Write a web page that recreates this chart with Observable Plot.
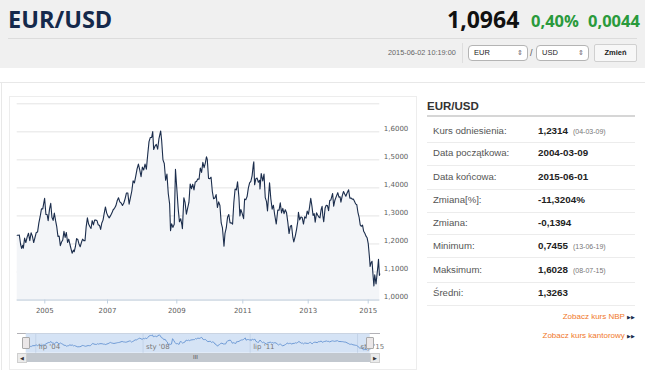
<!DOCTYPE html>
<html><head><meta charset="utf-8">
<script src="https://cdn.jsdelivr.net/npm/d3@7"></script>
<script src="https://cdn.jsdelivr.net/npm/@observablehq/plot@0.6"></script>
<style>
body{margin:0;width:645px;height:370px;overflow:hidden;background:#fff;font-family:"Liberation Sans",Arial,sans-serif;position:relative}
.a{position:absolute;white-space:nowrap}
.os{font-family:"Open Sans",sans-serif;font-weight:700}
#main,#nav{position:absolute}
#main svg,#nav svg{overflow:visible;display:block}
</style></head><body>
<div class="a" style="left:0;top:0;width:645px;height:68px;background:#f0f0f0"></div>
<div class="a os" style="left:8px;top:7px;font-size:23.5px;line-height:24px;color:#15294b">EUR/USD</div>
<div class="a os" style="left:447px;top:7px;font-size:23px;line-height:24px;color:#111">1,0964</div>
<div class="a os" style="left:531px;top:11px;font-size:16.5px;line-height:20px;color:#2a9a3c">0,40%</div>
<div class="a os" style="left:588px;top:11px;font-size:16.5px;line-height:20px;color:#2a9a3c">0,0044</div>
<div class="a" style="left:8px;top:38px;width:629px;height:1px;background:#dcdcdc"></div>
<div class="a" style="left:388px;top:47px;font-size:7.3px;line-height:12px;color:#666">2015-06-02 10:19:00</div>
<div class="a" style="left:462px;top:43px;width:1px;height:20px;background:#dedede"></div>
<div class="a" style="left:468px;top:45px;width:58px;height:14px;border:1px solid #b4b4b4;border-radius:4px;background:#fff;font-size:7.5px;line-height:14px;color:#222"><span style="margin-left:5px">EUR</span><span style="position:absolute;right:4px;font-size:7px;color:#666">⇕</span></div>
<div class="a" style="left:530px;top:46px;font-size:9px;line-height:14px;color:#555">/</div>
<div class="a" style="left:536px;top:45px;width:51px;height:14px;border:1px solid #b4b4b4;border-radius:4px;background:#fff;font-size:7.5px;line-height:14px;color:#222"><span style="margin-left:5px">USD</span><span style="position:absolute;right:4px;font-size:7px;color:#666">⇕</span></div>
<div class="a" style="left:594px;top:44px;width:41px;height:16px;border:1px solid #d0d0d0;border-radius:2px;background:#f7f7f7;font-size:7.5px;font-weight:bold;line-height:16px;text-align:center;color:#222">Zmień</div>

<div class="a" style="left:0;top:82px;width:645px;height:1px;background:#e8e8e8"></div>
<div class="a" style="left:1px;top:82px;width:1px;height:288px;background:#e8e8e8"></div>
<div class="a" style="left:9px;top:96px;width:406px;height:272px;border:1px solid #ededed"></div>

<div id="main" style="left:10px;top:96px"></div>
<div class="a" style="left:16.7px;top:333px;width:363px;height:1px;background:#b2b1b6"></div>
<div id="nav" style="left:10px;top:330px"></div>
<div class="a" style="left:22px;top:337px;width:6px;height:10px;border:1px solid #a9a9a9;border-radius:1px;background:#ebe7e8"></div>
<div class="a" style="left:366px;top:337px;width:6px;height:10px;border:1px solid #a9a9a9;border-radius:1px;background:#ebe7e8"></div>
<div class="a" style="left:16.7px;top:353px;width:363px;height:9px;background:#c2c8cf"></div>
<div class="a" style="left:16.7px;top:353px;width:8px;height:8px;border:1px solid #cfcfcf;background:#ebebeb;font-size:5px;line-height:8px;text-align:center;color:#333">◀</div>
<div class="a" style="left:370px;top:353px;width:8px;height:8px;border:1px solid #cfcfcf;background:#ebebeb;font-size:5px;line-height:8px;text-align:center;color:#333">▶</div>
<div class="a" style="left:193px;top:353px;font-size:6px;line-height:9px;color:#555">III</div>

<div class="a" style="left:427px;top:98px;font-size:11.5px;font-weight:bold;line-height:16px;color:#333">EUR/USD</div>
<div class="a" style="left:426.7px;top:115px;width:208px;height:2px;background:#d6d6d6"></div>
<div id="side"></div>
<div class="a" style="left:540px;top:311px;width:95px;text-align:right;font-size:8px;line-height:12px;color:#f0782a">Zobacz kurs NBP <span style="color:#1a2b4a;font-size:5px">▶▶</span></div>
<div class="a" style="left:500px;top:330px;width:135px;text-align:right;font-size:8px;line-height:12px;color:#f0782a">Zobacz kurs kantorowy <span style="color:#1a2b4a;font-size:5px">▶▶</span></div>

<script>
// ---- data ----
const dates = [
"2004-03-09","2004-03-22","2004-04-01","2004-04-15","2004-04-26","2004-05-07","2004-05-14","2004-05-28","2004-06-10","2004-06-25",
"2004-07-09","2004-07-23","2004-08-06","2004-08-20","2004-09-03","2004-09-17","2004-10-01","2004-10-15","2004-10-29","2004-11-12",
"2004-11-26","2004-12-10","2004-12-30","2005-01-14","2005-01-28","2005-02-09","2005-02-25","2005-03-11","2005-03-25","2005-04-08",
"2005-04-22","2005-05-06","2005-05-20","2005-06-03","2005-06-17","2005-07-01","2005-07-15","2005-07-29","2005-08-12","2005-08-26",
"2005-09-09","2005-09-23","2005-10-07","2005-10-21","2005-11-04","2005-11-15","2005-11-30","2005-12-09","2005-12-23","2006-01-06",
"2006-01-20","2006-02-03","2006-02-17","2006-03-03","2006-03-17","2006-03-31","2006-04-14","2006-04-28","2006-05-12","2006-05-26",
"2006-06-09","2006-06-23","2006-07-07","2006-07-21","2006-08-04","2006-08-18","2006-09-01","2006-09-15","2006-09-29","2006-10-13",
"2006-10-27","2006-11-10","2006-11-24","2006-12-08","2006-12-22","2007-01-05","2007-01-19","2007-02-02","2007-02-16","2007-03-02",
"2007-03-16","2007-03-30","2007-04-13","2007-04-27","2007-05-11","2007-05-25","2007-06-08","2007-06-22","2007-07-06","2007-07-20",
"2007-08-03","2007-08-17","2007-08-31","2007-09-14","2007-09-28","2007-10-12","2007-10-26","2007-11-09","2007-11-23","2007-12-07",
"2007-12-21","2008-01-04","2008-01-18","2008-02-01","2008-02-15","2008-02-29","2008-03-14","2008-03-28","2008-04-11","2008-04-22",
"2008-05-02","2008-05-16","2008-05-30","2008-06-13","2008-06-27","2008-07-15","2008-07-25","2008-08-08","2008-08-22","2008-09-05",
"2008-09-19","2008-10-03","2008-10-17","2008-10-27","2008-11-07","2008-11-21","2008-12-05","2008-12-18","2009-01-02","2009-01-16",
"2009-01-30","2009-02-13","2009-02-27","2009-03-04","2009-03-20","2009-04-03","2009-04-17","2009-05-01","2009-05-15","2009-05-29",
"2009-06-12","2009-06-26","2009-07-10","2009-07-24","2009-08-07","2009-08-21","2009-09-04","2009-09-18","2009-10-02","2009-10-16",
"2009-10-30","2009-11-13","2009-11-25","2009-12-04","2009-12-18","2010-01-01","2010-01-15","2010-01-29","2010-02-12","2010-02-26",
"2010-03-12","2010-03-26","2010-04-09","2010-04-23","2010-05-07","2010-05-21","2010-06-07","2010-06-18","2010-07-02","2010-07-16",
"2010-07-30","2010-08-13","2010-08-27","2010-09-10","2010-09-24","2010-10-08","2010-10-22","2010-11-04","2010-11-19","2010-11-30",
"2010-12-10","2010-12-24","2011-01-10","2011-01-21","2011-02-04","2011-02-18","2011-03-04","2011-03-18","2011-04-01","2011-04-15",
"2011-04-29","2011-05-04","2011-05-13","2011-05-27","2011-06-10","2011-06-24","2011-07-08","2011-07-12","2011-07-26","2011-08-12",
"2011-08-26","2011-09-09","2011-09-23","2011-10-04","2011-10-27","2011-11-10","2011-11-25","2011-12-09","2011-12-23","2012-01-10",
"2012-01-27","2012-02-10","2012-02-24","2012-03-09","2012-03-23","2012-04-06","2012-04-20","2012-05-04","2012-05-18","2012-06-01",
"2012-06-15","2012-06-29","2012-07-13","2012-07-24","2012-08-10","2012-08-24","2012-09-07","2012-09-14","2012-09-28","2012-10-12",
"2012-10-26","2012-11-09","2012-11-23","2012-12-07","2012-12-21","2013-01-04","2013-01-18","2013-02-01","2013-02-15","2013-03-01",
"2013-03-15","2013-03-27","2013-04-12","2013-04-26","2013-05-10","2013-05-24","2013-06-07","2013-06-19","2013-06-28","2013-07-09",
"2013-07-26","2013-08-09","2013-08-23","2013-09-06","2013-09-20","2013-10-04","2013-10-25","2013-11-07","2013-11-22","2013-12-06",
"2013-12-27","2014-01-10","2014-01-24","2014-02-03","2014-02-21","2014-03-07","2014-03-21","2014-04-04","2014-04-18","2014-05-08",
"2014-05-23","2014-06-06","2014-06-20","2014-07-04","2014-07-18","2014-08-01","2014-08-15","2014-08-29","2014-09-12","2014-09-26",
"2014-10-10","2014-10-24","2014-11-07","2014-11-21","2014-12-05","2014-12-19","2015-01-02","2015-01-16","2015-01-26","2015-02-06",
"2015-02-20","2015-03-06","2015-03-16","2015-03-27","2015-04-13","2015-04-24","2015-05-08","2015-05-15","2015-05-27","2015-06-01"];
const rates = [
1.231,1.231,1.232,1.198,1.184,1.195,1.185,1.221,1.205,1.225,
1.238,1.212,1.240,1.228,1.205,1.223,1.241,1.243,1.275,1.298,
1.325,1.325,1.363,1.305,1.305,1.283,1.324,1.345,1.295,1.284,
1.310,1.284,1.262,1.227,1.228,1.194,1.207,1.214,1.245,1.223,
1.241,1.205,1.217,1.198,1.181,1.167,1.178,1.172,1.190,1.219,
1.216,1.200,1.190,1.205,1.217,1.212,1.212,1.262,1.293,1.271,
1.262,1.255,1.283,1.268,1.285,1.285,1.283,1.268,1.267,1.252,
1.275,1.285,1.310,1.332,1.311,1.300,1.293,1.301,1.310,1.322,
1.327,1.336,1.354,1.365,1.350,1.346,1.337,1.346,1.362,1.382,
1.382,1.342,1.365,1.388,1.425,1.418,1.442,1.468,1.485,1.464,
1.440,1.474,1.464,1.485,1.467,1.518,1.565,1.580,1.580,1.601,
1.537,1.549,1.555,1.538,1.576,1.603,1.570,1.500,1.487,1.427,
1.449,1.380,1.344,1.247,1.272,1.259,1.270,1.466,1.394,1.327,
1.279,1.290,1.267,1.254,1.365,1.347,1.306,1.328,1.348,1.414,
1.397,1.413,1.393,1.421,1.423,1.432,1.431,1.471,1.455,1.491,
1.472,1.489,1.511,1.502,1.434,1.433,1.438,1.387,1.361,1.364,
1.376,1.330,1.350,1.337,1.275,1.257,1.192,1.238,1.257,1.295,
1.305,1.275,1.275,1.271,1.349,1.396,1.393,1.422,1.367,1.300,
1.323,1.310,1.290,1.360,1.358,1.369,1.399,1.418,1.423,1.443,
1.484,1.493,1.411,1.433,1.435,1.420,1.427,1.396,1.451,1.425,
1.449,1.365,1.351,1.318,1.418,1.362,1.324,1.338,1.305,1.271,
1.321,1.320,1.347,1.311,1.327,1.308,1.322,1.311,1.278,1.237,
1.263,1.266,1.224,1.207,1.229,1.252,1.281,1.313,1.286,1.296,
1.294,1.271,1.297,1.292,1.317,1.306,1.332,1.363,1.336,1.302,
1.308,1.278,1.311,1.303,1.296,1.293,1.322,1.334,1.301,1.279,
1.328,1.338,1.337,1.319,1.355,1.357,1.380,1.335,1.356,1.367,
1.383,1.367,1.368,1.349,1.374,1.387,1.378,1.370,1.381,1.393,
1.363,1.364,1.360,1.360,1.352,1.343,1.340,1.313,1.296,1.268,
1.263,1.267,1.245,1.238,1.228,1.222,1.200,1.157,1.120,1.132,
1.138,1.085,1.050,1.090,1.057,1.087,1.122,1.145,1.088,1.093];
const yTicks = [1.0, 1.1, 1.2, 1.3, 1.4, 1.5, 1.6];
const gridTicks = [1.0, 1.1, 1.2, 1.3, 1.4, 1.5, 1.6, 1.7];
const xTickYears = ["2005-01-01","2007-01-01","2009-01-01","2011-01-01","2013-01-01","2015-01-01"];
const navLabels = ["lip '04", "sty '08", "lip '11", "sty '15"];
const navLabelDates = ["2004-07-01","2008-01-01","2011-07-01","2015-01-01"];
const statLabels = ["Kurs odniesienia:","Data początkowa:","Data końcowa:","Zmiana[%]:","Zmiana:","Minimum:","Maksimum:","Średni:"];
const statValues = ["1,2314","2004-03-09","2015-06-01","-11,3204%","-0,1394","0,7455","1,6028","1,3263"];
const statNotes = ["(04-03-09)","","","","","(13-06-19)","(08-07-15)",""];

// ---- chart ----
const data = dates.map((d, i) => ({date: new Date(d), rate: rates[i]}));
const start = new Date(dates[0]), end = new Date(dates[dates.length - 1]);
const fmt = d => d.toFixed(4).replace(".", ",");
const tickDates = xTickYears.map(d => new Date(d));

const main = Plot.plot({
  width: 405, height: 225,
  marginLeft: 6.7, marginRight: 35.7, marginTop: 7.3, marginBottom: 21.5,
  x: {type: "utc", domain: [start, ...tickDates, end], range: [6.7, 34.3, 97, 166.3, 232.3, 297.7, 357.7, 369.3]},
  y: {domain: [1.0, 1.7]},
  style: {fontFamily: "DejaVu Sans, sans-serif", fontSize: "7px", color: "#606060", background: "transparent"},
  marks: [
    Plot.ruleY(gridTicks, {stroke: "#e4e4e4", strokeWidth: 1}),
    Plot.areaY(data, {x: "date", y1: 1.0, y2: "rate", fill: "#f3f5f8"}),
    Plot.line(data, {x: "date", y: "rate", stroke: "#1b2d4c", strokeWidth: 1.1}),
    Plot.ruleY([1.0], {stroke: "#c0d0e0"}),
    Plot.axisX(tickDates, {tickSize: 4, tickPadding: 4, tickFormat: d3.utcFormat("%Y"), stroke: "#c0d0e0", fill: "#606060", fontSize: 7, label: null}),
    Plot.axisY(yTicks, {anchor: "right", tickSize: 0, tickPadding: 4, tickFormat: fmt, fill: "#606060", dy: -3, fontSize: 7, label: null})
  ]
});
document.getElementById("main").appendChild(main);

const nav = Plot.plot({
  width: 405, height: 24,
  marginLeft: 15.7, marginRight: 45.3, marginTop: 3.3, marginBottom: 1.3,
  x: {type: "utc", domain: [start, end], axis: null},
  y: {domain: [0.94, 1.643], axis: null},
  style: {fontFamily: "DejaVu Sans, sans-serif", fontSize: "7px", background: "transparent"},
  marks: [
    Plot.rect([0], {x1: start, x2: end, y1: 0.94, y2: 1.643, fill: "#d5e3f5"}),
    Plot.ruleX(navLabelDates.map(d => new Date(d)), {stroke: "#c3d3e8"}),
    Plot.line(data, {x: "date", y: "rate", stroke: "#6f9bd6", strokeWidth: 1}),
    Plot.text(navLabels, {x: (d, i) => new Date(navLabelDates[i]), y: 0.94, text: d => d, textAnchor: "start", dx: 3, dy: -6, fill: "#777", fontSize: 7})
  ]
});
document.getElementById("nav").appendChild(nav);

// ---- sidebar ----
const rowCenters = [130.7, 153.3, 177.3, 200, 222.7, 245.7, 270, 293.3];
const side = document.getElementById("side");
statLabels.forEach((lab, i) => {
  const c = rowCenters[i];
  const l = document.createElement("div");
  l.className = "a";
  l.style.cssText = `left:433px;top:${c - 7}px;font-size:9.6px;line-height:14px;color:#555`;
  l.textContent = lab;
  side.appendChild(l);
  const v = document.createElement("div");
  v.className = "a";
  v.style.cssText = `left:538px;top:${c - 7}px;font-size:9.8px;line-height:14px;color:#222;font-weight:bold`;
  v.textContent = statValues[i];
  if (statNotes[i]) {
    const n = document.createElement("span");
    n.style.cssText = "font-weight:normal;font-size:7px;color:#777;margin-left:5px";
    n.textContent = statNotes[i];
    v.appendChild(n);
  }
  side.appendChild(v);
  const s = document.createElement("div");
  s.className = "a";
  s.style.cssText = `left:427px;top:${c + 11.5}px;width:208px;height:1px;background:#ececec`;
  side.appendChild(s);
});
</script>
</body></html>
